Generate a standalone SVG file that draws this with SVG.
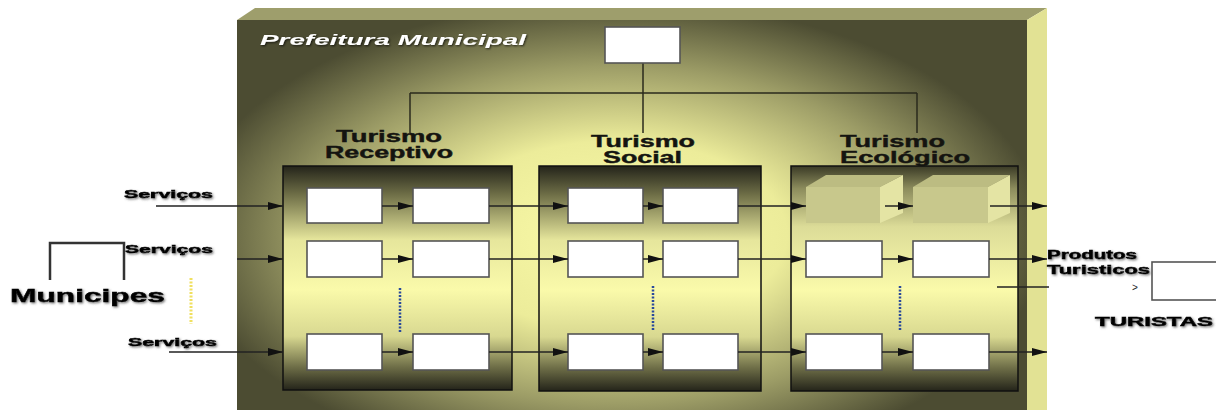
<svg xmlns="http://www.w3.org/2000/svg" width="1216" height="410" viewBox="0 0 1216 410">
<defs>
<radialGradient id="bg" gradientUnits="userSpaceOnUse" cx="0" cy="0" r="1" gradientTransform="translate(615,235) scale(430,235)">
<stop offset="0" stop-color="#fafaa8"/>
<stop offset="0.4" stop-color="#ecec9a"/>
<stop offset="0.72" stop-color="#9c9c66"/>
<stop offset="1" stop-color="#4c4c32"/>
</radialGradient>
<linearGradient id="panel" x1="0" y1="0" x2="0" y2="1">
<stop offset="0" stop-color="#24241a"/>
<stop offset="0.13" stop-color="#707048"/>
<stop offset="0.33" stop-color="#e6e69c"/>
<stop offset="0.55" stop-color="#fafaaa"/>
<stop offset="0.76" stop-color="#d8d890"/>
<stop offset="0.9" stop-color="#6c6c46"/>
<stop offset="1" stop-color="#24241a"/>
</linearGradient>
<linearGradient id="panel3" x1="0" y1="0" x2="0" y2="1">
<stop offset="0" stop-color="#3a3a26"/>
<stop offset="0.1" stop-color="#8c8c5c"/>
<stop offset="0.27" stop-color="#dcdc98"/>
<stop offset="0.55" stop-color="#fafaaa"/>
<stop offset="0.76" stop-color="#d8d890"/>
<stop offset="0.9" stop-color="#6c6c46"/>
<stop offset="1" stop-color="#24241a"/>
</linearGradient>
<marker id="ah" viewBox="0 0 15 8" refX="15" refY="4" markerWidth="15" markerHeight="8" markerUnits="userSpaceOnUse" orient="auto">
<path d="M0,0 L15,4 L0,8 z" fill="#111"/>
</marker>
<filter id="shw" x="-10%" y="-30%" width="120%" height="160%">
<feDropShadow dx="1" dy="1" stdDeviation="0.8" flood-color="#000" flood-opacity="0.7"/>
</filter>
<filter id="shb" x="-10%" y="-30%" width="120%" height="160%">
<feDropShadow dx="1.2" dy="1.2" stdDeviation="0.9" flood-color="#555" flood-opacity="0.8"/>
</filter>
<style>
.panel{fill:url(#panel);stroke:#111;stroke-width:1.5}
.box{fill:#fff;stroke:#555;stroke-width:1.6}
.conn{stroke:#222;stroke-width:1.5;fill:none}
.arr{marker-end:url(#ah)}
.tree{stroke:#2a2a1c;stroke-width:1.5;fill:none}
.title{font-family:"Liberation Sans",Arial,sans-serif;font-weight:bold;font-size:16px;fill:#141410;stroke:#141410;stroke-width:0.4}
.lbl{font-family:"Liberation Sans",Arial,sans-serif;font-weight:bold;fill:#000;stroke:#000;stroke-width:0.5;filter:url(#shb)}
.blue{stroke:#2a4a9c;stroke-width:2.5;stroke-dasharray:2 1.5;fill:none}
.front{fill:#c8c88c}
.top{fill:#bcbc82}
.side{fill:#e4e4a4}
</style>
</defs>

<g id="prefeitura">
<rect x="237" y="20" width="790" height="390" fill="url(#bg)"/>
<polygon points="237,20 255,8 1047,8 1027,20" fill="#9e9e6c"/>
<polygon points="1027,20 1047,8 1047,410 1027,410" fill="#e2e294"/>
<text x="260" y="45" font-family="Liberation Sans,Arial,sans-serif" font-weight="bold" font-style="italic" font-size="15" fill="#fff" textLength="266" lengthAdjust="spacingAndGlyphs" filter="url(#shw)">Prefeitura Municipal</text>
</g>

<g id="tree" class="tree">
<line x1="643" y1="63" x2="643" y2="133"/>
<line x1="410" y1="93" x2="917" y2="93"/>
<line x1="410" y1="93" x2="410" y2="133"/>
<line x1="917" y1="93" x2="917" y2="133"/>
</g>

<g id="top-box"><rect class="box" x="605" y="27" width="75" height="36"/></g>

<g id="receptivo">
<rect class="panel" x="283" y="166" width="229" height="224"/>
<text class="title" x="336" y="142" textLength="106" lengthAdjust="spacingAndGlyphs">Turismo</text>
<text class="title" x="325" y="158" textLength="128" lengthAdjust="spacingAndGlyphs">Receptivo</text>
<rect class="box" x="307" y="188" width="75" height="35"/>
<rect class="box" x="413" y="188" width="76" height="35"/>
<rect class="box" x="307" y="241" width="75" height="36"/>
<rect class="box" x="413" y="241" width="76" height="36"/>
<rect class="box" x="307" y="334" width="75" height="36"/>
<rect class="box" x="413" y="334" width="76" height="36"/>
<line class="blue" x1="400" y1="288" x2="400" y2="333"/>
</g>

<g id="social">
<rect class="panel" x="539" y="166" width="222" height="225"/>
<text class="title" x="591" y="147" textLength="104" lengthAdjust="spacingAndGlyphs">Turismo</text>
<text class="title" x="603" y="163" textLength="79" lengthAdjust="spacingAndGlyphs">Social</text>
<rect class="box" x="568" y="188" width="75" height="35"/>
<rect class="box" x="663" y="188" width="75" height="35"/>
<rect class="box" x="568" y="241" width="75" height="36"/>
<rect class="box" x="663" y="241" width="75" height="36"/>
<rect class="box" x="568" y="334" width="75" height="36"/>
<rect class="box" x="663" y="334" width="75" height="36"/>
<line class="blue" x1="653" y1="286" x2="653" y2="331"/>
</g>

<g id="ecologico">
<rect class="panel" x="791" y="166" width="227" height="225" style="fill:url(#panel3)"/>
<text class="title" x="840" y="147" textLength="105" lengthAdjust="spacingAndGlyphs">Turismo</text>
<text class="title" x="840" y="163" textLength="130" lengthAdjust="spacingAndGlyphs">Ecológico</text>
<rect class="front" x="806" y="187" width="74" height="36"/>
<polygon class="top" points="806,187 826,175 903,175 880,187"/>
<polygon class="side" points="880,187 903,175 903,213 880,223"/>
<rect class="front" x="913" y="187" width="75" height="36"/>
<polygon class="top" points="913,187 933,175 1010,175 988,187"/>
<polygon class="side" points="988,187 1010,175 1010,213 988,223"/>
<rect class="box" x="806" y="241" width="76" height="36"/>
<rect class="box" x="913" y="241" width="76" height="36"/>
<rect class="box" x="806" y="334" width="76" height="36"/>
<rect class="box" x="913" y="334" width="76" height="36"/>
<line class="blue" x1="900" y1="286" x2="900" y2="331"/>
</g>

<g id="municipes">
<path d="M50,280 V243 H124 V280" stroke="#333" stroke-width="2.5" fill="none"/>
<text class="lbl" x="10" y="302" font-size="19" textLength="155" lengthAdjust="spacingAndGlyphs" stroke-width="1">Municipes</text>
<line x1="191" y1="278" x2="191" y2="324" stroke="#f0e060" stroke-width="3" stroke-dasharray="2 1.5"/>
</g>

<g id="servicos">
<text class="lbl" x="124" y="198" font-size="11" textLength="89" lengthAdjust="spacingAndGlyphs">Serviços</text>
<text class="lbl" x="125" y="253" font-size="11" textLength="88" lengthAdjust="spacingAndGlyphs">Serviços</text>
<text class="lbl" x="128" y="346" font-size="11" textLength="89" lengthAdjust="spacingAndGlyphs">Serviços</text>
</g>

<g id="turistas">
<rect class="box" x="1152" y="262" width="70" height="38"/>
<text class="lbl" x="1047" y="259" font-size="12" textLength="90" lengthAdjust="spacingAndGlyphs">Produtos</text>
<text class="lbl" x="1047" y="274" font-size="13" textLength="103" lengthAdjust="spacingAndGlyphs">Turisticos</text>
<text x="1132" y="291" font-family="Liberation Sans,Arial,sans-serif" font-size="10" fill="#222">&gt;</text>
<text class="lbl" x="1095" y="326" font-size="13" textLength="118" lengthAdjust="spacingAndGlyphs">TURISTAS</text>
</g>

<g id="connectors" class="conn">
<line class="arr" x1="156" y1="206" x2="283" y2="206"/>
<line class="arr" x1="237" y1="259" x2="283" y2="259"/>
<line class="arr" x1="169" y1="352" x2="283" y2="352"/>
<line class="arr" x1="382" y1="206" x2="413" y2="206"/>
<line class="arr" x1="382" y1="259" x2="413" y2="259"/>
<line class="arr" x1="382" y1="352" x2="413" y2="352"/>
<line class="arr" x1="489" y1="206" x2="568" y2="206"/>
<line class="arr" x1="489" y1="259" x2="568" y2="259"/>
<line class="arr" x1="489" y1="352" x2="568" y2="352"/>
<line class="arr" x1="643" y1="206" x2="663" y2="206"/>
<line class="arr" x1="643" y1="259" x2="663" y2="259"/>
<line class="arr" x1="643" y1="352" x2="663" y2="352"/>
<line class="arr" x1="738" y1="206" x2="806" y2="206"/>
<line class="arr" x1="738" y1="259" x2="806" y2="259"/>
<line class="arr" x1="738" y1="352" x2="806" y2="352"/>
<line class="arr" x1="885" y1="206" x2="913" y2="206"/>
<line class="arr" x1="882" y1="259" x2="913" y2="259"/>
<line class="arr" x1="882" y1="352" x2="913" y2="352"/>
<line class="arr" x1="990" y1="206" x2="1047" y2="206"/>
<line class="arr" x1="989" y1="259" x2="1047" y2="259"/>
<line class="arr" x1="989" y1="352" x2="1047" y2="352"/>
<line x1="997" y1="287" x2="1049" y2="287"/>
</g>
</svg>
